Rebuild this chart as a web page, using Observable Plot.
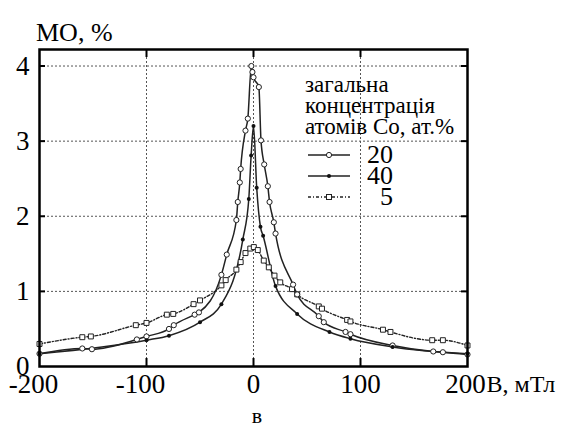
<!DOCTYPE html>
<html><head><meta charset="utf-8">
<script src="https://cdn.jsdelivr.net/npm/d3@7"></script>
<script src="https://cdn.jsdelivr.net/npm/@observablehq/plot@0.6"></script>
<style>body{margin:0;background:#fff}</style>
</head><body><div id="chart"></div>
<script>
const xTicksNeg = [-200, -100];
const xTicksPos = [0, 100];
const xLast = 200;
const yTicks = [0, 1, 2, 3, 4];
const xGrid = [-100, 0, 100];
const yGrid = [1, 2, 3, 4];
const yLabel = "MO, %";
const xLabel = "В, мТл";
const caption = "в";
const legendTitle = ["загальна", "концентрація", "атомів Co, ат.%"];
const seriesNames = ["20", "40", "5"];

const s20x = [-200, -160, -151, -109, -100, -79, -74.5, -55, -51, -30, -25, -16, -14.7, -12.8, -12, -7.5, -5.3, -2, -1, 0, 5, 7, 10, 13.4, 15, 19, 20.6, 37, 40.8, 61, 65.7, 86, 90.6, 130, 168, 177, 200];
const s20y = [0.17, 0.24, 0.23, 0.36, 0.40, 0.50, 0.55, 0.69, 0.72, 1.22, 1.49, 1.95, 2.19, 2.45, 2.63, 3.14, 3.30, 4.0, 3.92, 3.85, 3.72, 3.01, 2.69, 2.40, 2.19, 1.92, 1.77, 1.09, 0.96, 0.67, 0.59, 0.46, 0.43, 0.28, 0.20, 0.19, 0.16];

const s40x = [-200, -100, -79, -50, -30, -10, -4.4, -2.2, 0, 3, 6.5, 9, 20.6, 40.8, 71, 90.6, 130, 200];
const s40y = [0.17, 0.35, 0.41, 0.59, 0.83, 1.69, 2.23, 2.81, 3.2, 2.38, 1.86, 1.74, 1.07, 0.70, 0.46, 0.37, 0.26, 0.17];

const s5x = [-200, -160, -152, -110, -100, -81, -75, -56, -50, -30, -26, -16, -12, -7.5, -3, 0.3, 4, 9.6, 14.3, 19.6, 25, 36, 40.8, 61, 64, 87.5, 90.6, 121, 128, 167, 177, 200];
const s5y = [0.30, 0.39, 0.40, 0.55, 0.58, 0.69, 0.70, 0.83, 0.88, 1.08, 1.15, 1.29, 1.39, 1.51, 1.57, 1.59, 1.55, 1.41, 1.32, 1.21, 1.12, 1.03, 0.96, 0.80, 0.77, 0.62, 0.60, 0.49, 0.46, 0.35, 0.35, 0.28];

const mk = (xs, ys, s) => xs.map((x, i) => ({x, y: ys[i], s}));
const d20 = mk(s20x, s20y, "20");
const d40 = mk(s40x, s40y, "40");
const d5 = mk(s5x, s5y, "5");

const W = 564, H = 429, mL = 39, mR = 97, mT = 49, mB = 63;
const innerW = W - mL - mR, innerH = H - mT - mB;
const font = "'Liberation Serif', 'Times New Roman', serif";
const ink = "#222";
const gridStyle = {stroke: "#555", strokeWidth: 1, strokeDasharray: "2,2"};
const txt = {fontFamily: font, fill: "black"};
const xLab = {y: () => 0, lineAnchor: "top", dy: 7, fontSize: 27, ...txt};

const chart = Plot.plot({
  width: W, height: H,
  marginLeft: mL, marginRight: mR, marginTop: mT, marginBottom: mB,
  x: {domain: [-200, 200], axis: null},
  y: {domain: [0, 4.22], axis: null},
  style: {fontFamily: font, background: "white", color: "black"},
  marks: [
    Plot.ruleX(xGrid, {x: d => d, ...gridStyle}),
    Plot.ruleY(yGrid, {y: d => d, ...gridStyle}),
    Plot.line(d5, {x: "x", y: "y", curve: "monotone-x", stroke: ink, strokeWidth: 1.4, strokeDasharray: "3,2,1,2"}),
    Plot.line(d20, {x: "x", y: "y", curve: "monotone-x", stroke: ink, strokeWidth: 1.5}),
    Plot.line(d40, {x: "x", y: "y", curve: "monotone-x", stroke: ink, strokeWidth: 1.5}),
    Plot.dot(d5, {x: "x", y: "y", symbol: "square", r: 2.8, fill: "white", stroke: ink, strokeWidth: 1}),
    Plot.dot(d20, {x: "x", y: "y", r: 2.6, fill: "white", stroke: ink, strokeWidth: 1}),
    Plot.dot(d40, {x: "x", y: "y", r: 2, fill: "#111", stroke: "none"}),
    Plot.tickX(xGrid, {x: d => d, insetTop: innerH - 8, stroke: "black", strokeWidth: 2}),
    Plot.tickX(xGrid, {x: d => d, insetBottom: innerH - 8, stroke: "black", strokeWidth: 2}),
    Plot.tickY(yGrid, {y: d => d, insetRight: innerW - 6, stroke: "black", strokeWidth: 2}),
    Plot.tickY(yGrid, {y: d => d, insetLeft: innerW - 6, stroke: "black", strokeWidth: 2}),
    Plot.frame({stroke: "black", strokeWidth: 2.5}),
    Plot.text(xTicksNeg, {x: d => d, text: d => String(d), dx: -6, ...xLab}),
    Plot.text(xTicksPos, {x: d => d, text: d => String(d), ...xLab}),
    Plot.text([xLast], {x: d => d, text: d => String(d), dx: -2, ...xLab}),
    Plot.text([xLabel], {x: () => 200, y: () => 0, text: d => d, lineAnchor: "top", dy: 8, dx: 19, textAnchor: "start", fontSize: 24, ...txt}),
    Plot.text(yTicks, {x: () => -200, y: d => d, text: d => String(d), textAnchor: "end", dx: -10, fontSize: 27, ...txt})
  ]
});

const svg = d3.select(chart);
svg.append("text").attr("x", 36).attr("y", 41).attr("font-size", 26).attr("text-anchor", "start")
  .style("font-family", font).attr("fill", "black").text(yLabel);
svg.append("text").attr("x", 257).attr("y", 423).attr("font-size", 22).attr("text-anchor", "middle")
  .style("font-family", font).attr("fill", "black").text(caption);

const lg = svg.append("g").style("font-family", font).attr("fill", "black");
legendTitle.forEach((t, i) => {
  lg.append("text").attr("x", 305).attr("y", 92 + i * 21).attr("font-size", 23)
    .attr("text-anchor", "start").style("font-family", font).text(t);
});
const rowsY = [155, 176, 197];
seriesNames.forEach((name, i) => {
  const y = rowsY[i];
  const ln = lg.append("line").attr("x1", 308).attr("x2", 350).attr("y1", y).attr("y2", y)
    .attr("stroke", ink).attr("stroke-width", 1.5);
  if (name === "5") ln.attr("stroke-dasharray", "3,2,1,2");
  if (name === "20") lg.append("circle").attr("cx", 329).attr("cy", y).attr("r", 2.6).attr("fill", "white").attr("stroke", ink);
  if (name === "40") lg.append("circle").attr("cx", 329).attr("cy", y).attr("r", 2).attr("fill", "#111");
  if (name === "5") lg.append("rect").attr("x", 326.5).attr("y", y - 2.5).attr("width", 5).attr("height", 5).attr("fill", "white").attr("stroke", ink);
  lg.append("text").attr("x", 393).attr("y", y + 8).attr("font-size", 26).attr("text-anchor", "end")
    .style("font-family", font).text(name);
});

document.getElementById("chart").appendChild(chart);
</script>
</body></html>
